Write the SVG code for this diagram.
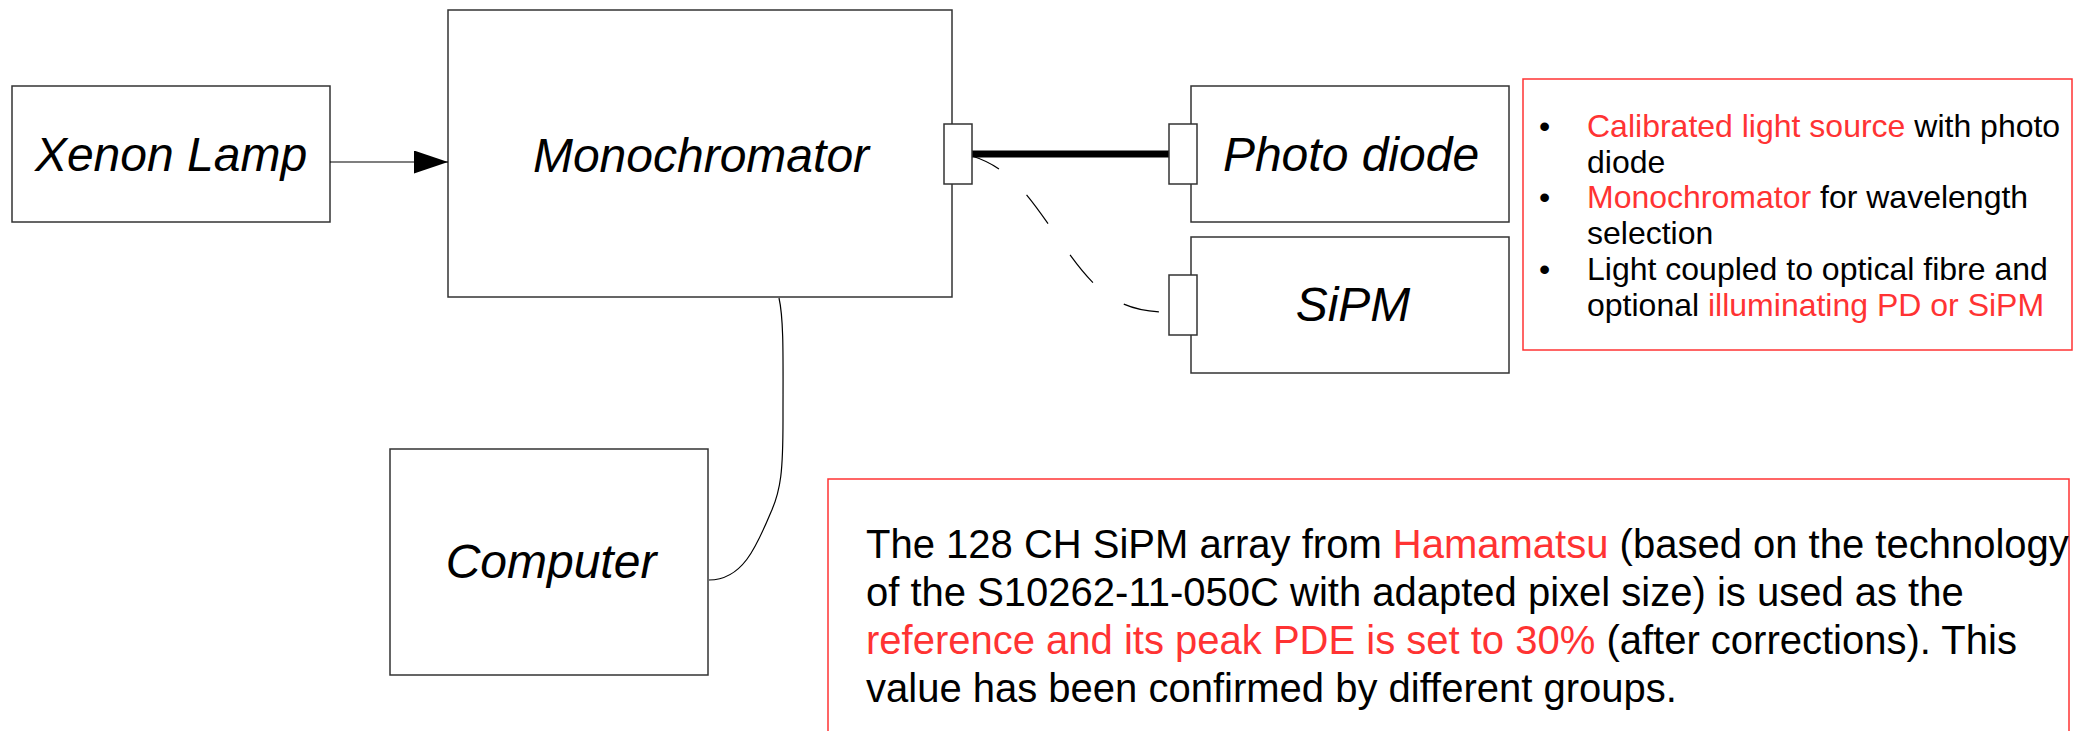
<svg xmlns="http://www.w3.org/2000/svg" width="2073" height="731" viewBox="0 0 2073 731">
<style>
.box{fill:#fff;stroke:#333;stroke-width:1.5}
.port{fill:#fff;stroke:#333;stroke-width:1.5}
.lbl{font-family:"Liberation Sans",Arial,sans-serif;font-style:italic;font-size:48px;fill:#000;text-anchor:middle}
.note{fill:#fff;stroke:#ff3333;stroke-width:1.5}
.txt{font-family:"Liberation Sans",Arial,sans-serif;fill:#000}
.red{fill:#ff3333}
.wire{fill:none;stroke:#000;stroke-width:1.2}
</style>
<defs>
<marker id="arr" markerUnits="userSpaceOnUse" markerWidth="34" markerHeight="24" refX="34" refY="11.5" orient="auto">
<path d="M0,0 L34,11.5 L0,23 Z" fill="#000"/>
</marker>
</defs>
<rect width="2073" height="731" fill="#fff"/>
<g id="xenon">
<rect class="box" x="12" y="86" width="318" height="136"/>
<text class="lbl" x="171" y="171">Xenon Lamp</text>
</g>
<g id="monochromator">
<rect class="box" x="448" y="10" width="504" height="287"/>
<text class="lbl" x="701" y="172">Monochromator</text>
</g>
<g id="photodiode">
<rect class="box" x="1191" y="86" width="318" height="136"/>
<text class="lbl" x="1351" y="171">Photo diode</text>
</g>
<g id="sipm">
<rect class="box" x="1191" y="237" width="318" height="136"/>
<text class="lbl" x="1353" y="321">SiPM</text>
</g>
<g id="computer">
<rect class="box" x="390" y="449" width="318" height="226"/>
<text class="lbl" x="551" y="578">Computer</text>
</g>
<g id="connectors">
<line x1="330" y1="162" x2="448" y2="162" stroke="#000" stroke-width="1.2" marker-end="url(#arr)"/>
<line x1="972" y1="154" x2="1169" y2="154" stroke="#000" stroke-width="7"/>
<path class="wire" d="M972,156 C1010,168 1028,195 1056,235 C1088,281 1110,313 1169,312" stroke-dasharray="36 38" stroke-dashoffset="6"/>
<path class="wire" d="M779,298 C784,320 783,360 783,420 C783,470 781,490 771,512 C756,548 742,580 709,580"/>
<rect class="port" x="944" y="124" width="28" height="60"/>
<rect class="port" x="1169" y="124" width="28" height="60"/>
<rect class="port" x="1169" y="275" width="28" height="60"/>
</g>
<g id="note-bullets">
<rect class="note" x="1523" y="79" width="549" height="271"/>
<g class="txt" font-size="32">
<text x="1539" y="137">•</text>
<text x="1587" y="137"><tspan class="red">Calibrated light source</tspan> with photo</text>
<text x="1587" y="173">diode</text>
<text x="1539" y="208">•</text>
<text x="1587" y="208"><tspan class="red">Monochromator</tspan> for wavelength</text>
<text x="1587" y="244">selection</text>
<text x="1539" y="280">•</text>
<text x="1587" y="280">Light coupled to optical fibre and</text>
<text x="1587" y="316">optional <tspan class="red">illuminating PD or SiPM</tspan></text>
</g>
</g>
<g id="note-reference">
<rect class="note" x="828" y="479" width="1241" height="260"/>
<g class="txt" font-size="40">
<text x="866" y="558">The 128 CH SiPM array from <tspan class="red">Hamamatsu</tspan> (based on the technology</text>
<text x="866" y="606">of the S10262-11-050C with adapted pixel size) is used as the</text>
<text x="866" y="654"><tspan class="red">reference and its peak PDE is set to 30%</tspan> (after corrections). This</text>
<text x="866" y="702">value has been confirmed by different groups.</text>
</g>
</g>
</svg>
